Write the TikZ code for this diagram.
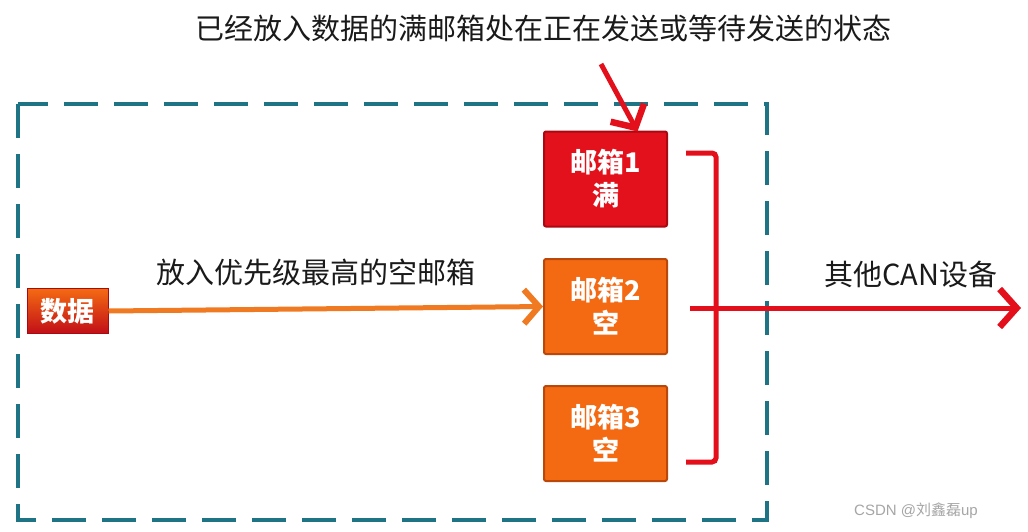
\documentclass[tikz,border=0pt]{standalone}
\usepackage{fontspec}
\setmainfont{Noto Sans CJK SC}
\newfontfamily\wmfont{Liberation Sans}
\usetikzlibrary{arrows.meta}
\definecolor{teal1}{HTML}{1E7385}
\definecolor{boxred}{HTML}{E3111C}
\definecolor{boxredD}{HTML}{A90A12}
\definecolor{boxor}{HTML}{F46A12}
\definecolor{boxorD}{HTML}{B9480A}
\definecolor{arrred}{HTML}{E3101B}
\definecolor{arror}{HTML}{F07A22}
\definecolor{txt}{HTML}{1A1A1A}
\tikzset{
  mbox/.style={draw=#1, line width=2pt, rounded corners=2pt, minimum width=123pt, minimum height=95pt,
    align=center, text=white, font=\bfseries\fontsize{27}{33}\selectfont, inner sep=0pt},
  lbl/.style={text=txt, font=\fontsize{29}{32}\selectfont, inner sep=0pt},
  redline/.style={draw=arrred, line width=5pt},
  barb/.style={-{Straight Barb[length=17pt,width=38pt,line width=6.5pt]}},
}
\begin{document}
\begin{tikzpicture}[x=1pt,y=-1pt]
\useasboundingbox[fill=white] (0,0) rectangle (1028,531);
% dashed frame
\draw[teal1, line width=4pt, dash pattern=on 34pt off 16pt] (18,104) rectangle (767,520);
% mailboxes
\node[mbox=boxredD, fill=boxred] (m1) at (605.5,179) {邮箱1\\满};
\node[mbox=boxorD, fill=boxor] (m2) at (605.5,306.5) {邮箱2\\空};
\node[mbox=boxorD, fill=boxor] (m3) at (605.5,433.5) {邮箱3\\空};
% data box
\node[draw=boxredD, line width=1pt, top color=boxor, bottom color=boxred!85!black, minimum width=81pt, minimum height=45pt,
  text=white, font=\bfseries\fontsize{27}{30}\selectfont, inner sep=0pt] (d) at (67.5,311) {数据};
% orange arrow
\draw[draw=arror, line width=5pt, -{Straight Barb[length=15pt,width=34pt,line width=6pt]}] (d.east) -- (m2.west);
\node[lbl] (l1) at (316,272) {放入优先级最高的空邮箱};
% bracket
\coordinate (b1) at (686,153);
\coordinate (b2) at (716,153);
\coordinate (b3) at (716,462);
\coordinate (b4) at (686,462);
\draw[redline, rounded corners=4pt] (b1) -- (b2) -- (b3) -- (b4);
\coordinate (s) at (690,308);
\coordinate (e) at (1021,308);
\draw[redline, barb] (s) -- (e);
\node[lbl] (l2) at (911,274) {其他CAN设备};
% top label and arrow
\node[lbl] (top) at (543,28) {已经放入数据的满邮箱处在正在发送或等待发送的状态};
\coordinate (t1) at (601,64);
\draw[redline, barb] (t1) -- ([xshift=32pt,yshift=-1pt]m1.north);
% watermark
\node[text=gray!70, font=\wmfont\fontsize{15}{18}\selectfont, inner sep=0pt] (wm) at (916,511) {CSDN @\textrm{刘鑫磊}up};
\end{tikzpicture}
\end{document}
